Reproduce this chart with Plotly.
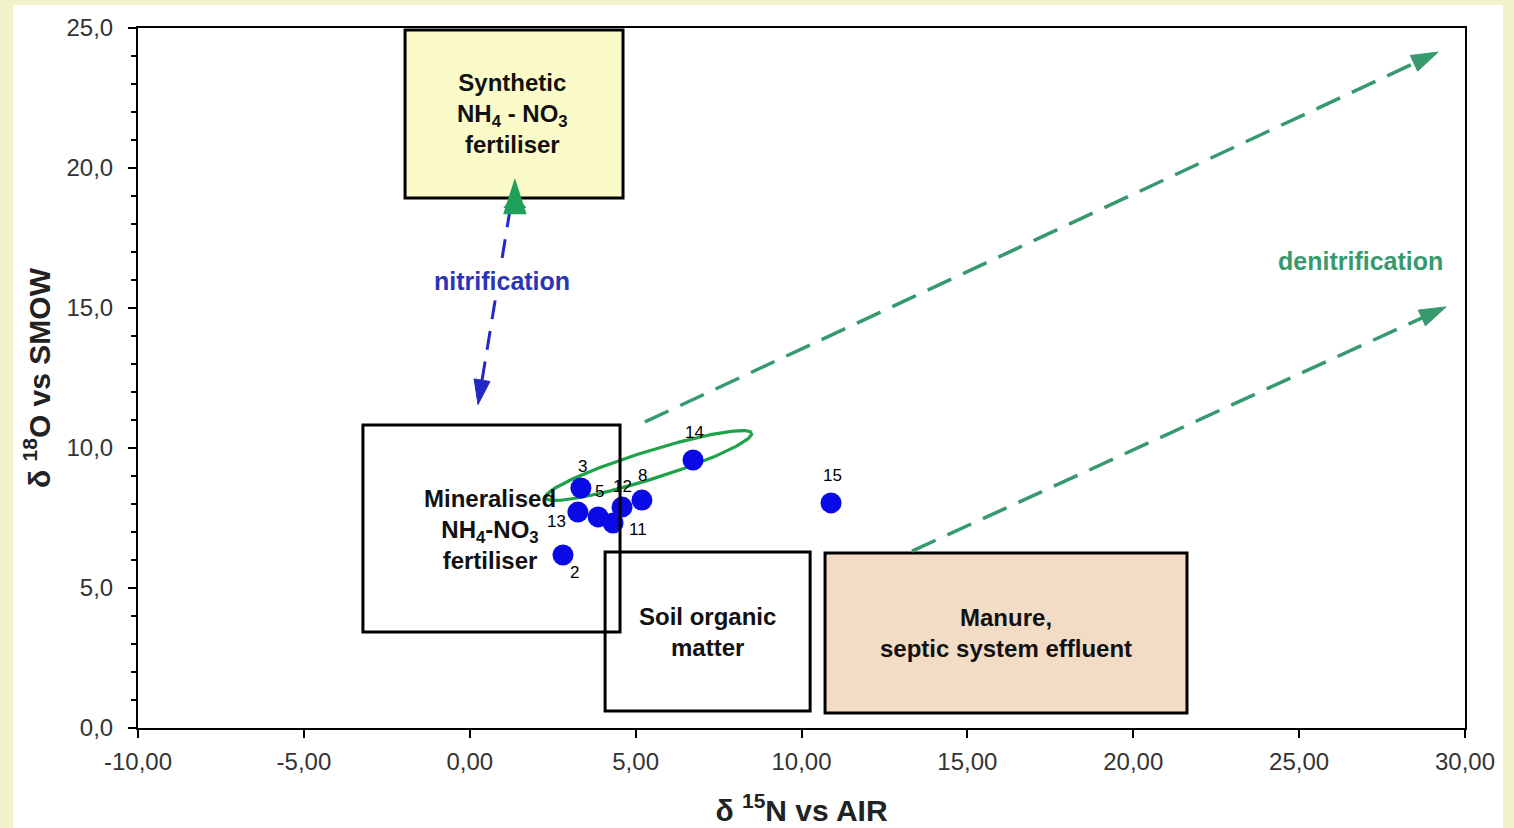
import numpy as np
import plotly.graph_objects as go

# ---------------- data ----------------
sample_ids = ["2", "3", "13", "5", "11", "12", "8", "14", "15"]
d15N = [2.81, 3.35, 3.26, 3.87, 4.32, 4.59, 5.19, 6.73, 10.89]
d18O = [6.18, 8.57, 7.71, 7.54, 7.32, 7.89, 8.14, 9.57, 8.04]
label_dx = [12, 2, -21, 1, 25, 0, 1, 1, 1]
label_dy = [-18, 22, -9, 25, -6, 21, 25, 28, 27]

x_ticks = [-10, -5, 0, 5, 10, 15, 20, 25, 30]
x_ticktext = ["-10,00", "-5,00", "0,00", "5,00", "10,00", "15,00", "20,00", "25,00", "30,00"]
y_ticks = [0, 5, 10, 15, 20, 25]
y_ticktext = ["0,0", "5,0", "10,0", "15,0", "20,0", "25,0"]

# source boxes: x0, x1, y0, y1
box_names = ["synthetic", "mineralised", "soil", "manure"]
box_x0 = [-1.95, -3.22, 4.08, 10.71]
box_x1 = [4.62, 4.53, 10.26, 21.62]
box_y0 = [18.93, 3.43, 0.61, 0.54]
box_y1 = [24.93, 10.82, 6.29, 6.25]
box_fill = ["#fbfbc9", "rgba(0,0,0,0)", "rgba(0,0,0,0)", "#f3dcc5"]
box_layer = ["below", "above", "below", "below"]
box_text = ["Synthetic<br>NH<sub>4</sub> - NO<sub>3</sub><br>fertiliser",
            "Mineralised<br>NH<sub>4</sub>-NO<sub>3</sub><br>fertiliser",
            "Soil organic<br>matter",
            "Manure,<br>septic system effluent"]
box_text_x = [1.30, 0.61, 7.18, 16.16]
box_text_y = [21.95, 7.10, 3.43, 3.39]

# process arrows (start -> tip)
nitri_x = [1.22, 0.25]
nitri_y = [18.55, 11.55]
denit1_x = [5.28, 29.19]
denit1_y = [10.93, 24.14]
denit2_x = [13.33, 29.43]
denit2_y = [6.32, 15.04]
synth_tip_x = [1.36]
synth_tip_y = [19.64]
synth_base_y = [18.75]

# ellipse around trend (data centre, pixel semi-axes, angle)
ell_cx, ell_cy = 5.39, 9.375
ell_a_px, ell_b_px, ell_ang = 108, 14, 17.4

XPX = 1327 / 40.0
YPX = 700 / 25.0

FONT = "Liberation Sans, Arial, sans-serif"
GREEN = "#369a6e"
BLUE_ARROW = "#2329c4"
TRI_GREEN = "#1ea05a"

fig = go.Figure()

# ellipse
t = np.linspace(0, 2 * np.pi, 200)
th = np.deg2rad(ell_ang)
px = ell_a_px * np.cos(t) * np.cos(th) - ell_b_px * np.sin(t) * np.sin(th)
py = ell_a_px * np.cos(t) * np.sin(th) + ell_b_px * np.sin(t) * np.cos(th)
fig.add_trace(go.Scatter(x=ell_cx + px / XPX, y=ell_cy + py / YPX, mode="lines",
                         line=dict(color="#1ea24a", width=3.2), hoverinfo="skip"))

# nitrification arrow
fig.add_trace(go.Scatter(x=nitri_x, y=nitri_y, mode="lines+markers",
                         line=dict(color=BLUE_ARROW, width=3, dash="19px,12px"),
                         marker=dict(symbol="arrow", size=[0, 26], angleref="previous",
                                     color=BLUE_ARROW, opacity=1,
                                     line=dict(width=1, color=BLUE_ARROW)),
                         hoverinfo="skip"))
# green triangle marking the synthetic source end
fig.add_trace(go.Scatter(x=synth_tip_x, y=synth_base_y, mode="markers",
                         marker=dict(symbol="triangle-up", size=20, color=TRI_GREEN,
                                     opacity=1, line=dict(width=0)),
                         hoverinfo="skip"))
fig.add_trace(go.Scatter(x=synth_tip_x, y=synth_tip_y, mode="markers",
                         marker=dict(symbol="arrow", size=38, color=TRI_GREEN,
                                     opacity=1, line=dict(width=0)),
                         hoverinfo="skip"))

# denitrification arrows
for xs, ys in [(denit1_x, denit1_y), (denit2_x, denit2_y)]:
    fig.add_trace(go.Scatter(x=xs, y=ys, mode="lines+markers",
                             line=dict(color=GREEN, width=3.5, dash="26px,13px"),
                             marker=dict(symbol="arrow", size=[0, 28], angleref="previous",
                                         color=GREEN, opacity=1,
                                         line=dict(width=1, color=GREEN)),
                             hoverinfo="skip"))

# samples
fig.add_trace(go.Scatter(x=d15N, y=d18O, mode="markers",
                         marker=dict(size=21, color="#0a0ae6", line=dict(width=0)),
                         hoverinfo="skip"))

shapes = [dict(type="rect", xref="paper", yref="paper", x0=-0.0942, x1=1.0286,
               y0=-0.2, y1=1.0329, fillcolor="white", line=dict(width=0), layer="below")]
for i in range(len(box_names)):
    shapes.append(dict(type="rect", xref="x", yref="y", x0=box_x0[i], x1=box_x1[i],
                       y0=box_y0[i], y1=box_y1[i], fillcolor=box_fill[i],
                       line=dict(color="black", width=3), layer=box_layer[i]))

annotations = []
for i in range(len(box_names)):
    annotations.append(dict(x=box_text_x[i], y=box_text_y[i], text="<b>" + box_text[i] + "</b>",
                            showarrow=False, font=dict(family=FONT, size=24, color="#111")))
for i, sid in enumerate(sample_ids):
    annotations.append(dict(x=d15N[i], y=d18O[i], text=sid, showarrow=False,
                            xshift=label_dx[i], yshift=label_dy[i],
                            font=dict(family=FONT, size=17, color="#000")))
annotations.append(dict(x=0.97, y=15.96, text="<b>nitrification</b>", showarrow=False,
                        bgcolor="white", borderpad=2,
                        font=dict(family=FONT, size=25, color="#2a35b5")))
annotations.append(dict(x=26.84, y=16.68, text="<b>denitrification</b>", showarrow=False,
                        font=dict(family=FONT, size=25, color=GREEN)))

fig.update_layout(
    width=1514, height=828,
    margin=dict(l=138, r=49, t=28, b=100, autoexpand=False),
    paper_bgcolor="#f3f3cb",
    plot_bgcolor="white",
    showlegend=False,
    shapes=shapes,
    annotations=annotations,
    xaxis=dict(range=[-10, 30], tickmode="array", tickvals=x_ticks, ticktext=x_ticktext,
               showgrid=False, zeroline=False, showline=True, mirror=True,
               linecolor="black", linewidth=2, ticks="outside", ticklen=8, tickwidth=2,
               tickcolor="black", ticklabelstandoff=3,
               tickfont=dict(family=FONT, size=24, color="#333"),
               title=dict(text="<b>δ <sup>15</sup>N vs AIR</b>", standoff=26,
                          font=dict(family=FONT, size=30, color="#222"))),
    yaxis=dict(range=[0, 25], tickmode="array", tickvals=y_ticks, ticktext=y_ticktext,
               showgrid=False, zeroline=False, showline=True, mirror=True,
               linecolor="black", linewidth=2, ticks="outside", ticklen=8, tickwidth=2,
               tickcolor="black", ticklabelstandoff=10,
               minor=dict(tickmode="linear", tick0=0, dtick=1, ticks="outside",
                          ticklen=5, tickwidth=2, tickcolor="black", showgrid=False),
               tickfont=dict(family=FONT, size=24, color="#333"),
               title=dict(text="<b>δ <sup>18</sup>O vs SMOW</b>", standoff=7,
                          font=dict(family=FONT, size=30, color="#222"))),
)

fig.write_html("out.html")
